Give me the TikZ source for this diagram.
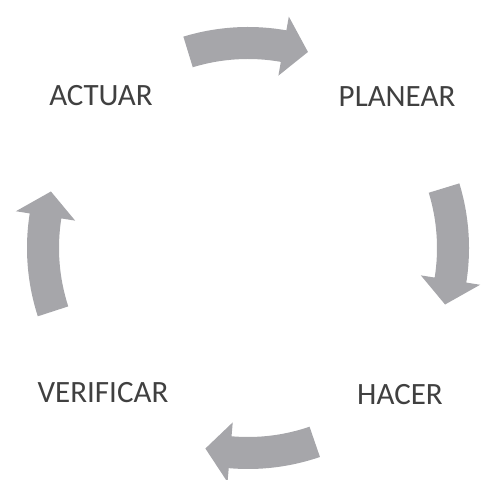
\documentclass[tikz,border=0pt]{standalone}
\usepackage{fontspec}
\setmainfont{Carlito}
\usepackage{tikz}
\definecolor{arrowgray}{RGB}{166,166,170}
\definecolor{labelgray}{RGB}{64,64,64}
\tikzset{
  steplabel/.style = {font=\fontsize{31}{36}\selectfont,text=labelgray,inner sep=0pt},
  blockarr/.style  = {fill=arrowgray}
}
% curved block arrow: #1 tail angle, #2 head base angle, #3 tip angle
\newcommand{\cyclearrow}[3]{%
  \fill[blockarr] (#1:221) arc[start angle=#1,end angle=#2,radius=221]
    -- (#2:235) -- (#3:205) -- (#2:175) -- (#2:189)
    arc[start angle=#2,end angle=#1,radius=189] -- cycle;
}

\begin{document}
\begin{tikzpicture}[x=1pt,y=1pt]
  \useasboundingbox (0,0) rectangle (486,479);
  \begin{scope}[shift={(248,231)}]
    \cyclearrow{107}{80}{73}
    \cyclearrow{17}{-9}{-16}
    \cyclearrow{-71}{-95}{-102}
    \cyclearrow{198}{171}{164}
  \end{scope}
  \node[steplabel] (actuar)    at (101,383) {ACTUAR};
  \node[steplabel] (planear)   at (397,382) {PLANEAR};
  \node[steplabel] (hacer)     at (400,84)  {HACER};
  \node[steplabel] (verificar) at (103,86)  {VERIFICAR};
\end{tikzpicture}
\end{document}
